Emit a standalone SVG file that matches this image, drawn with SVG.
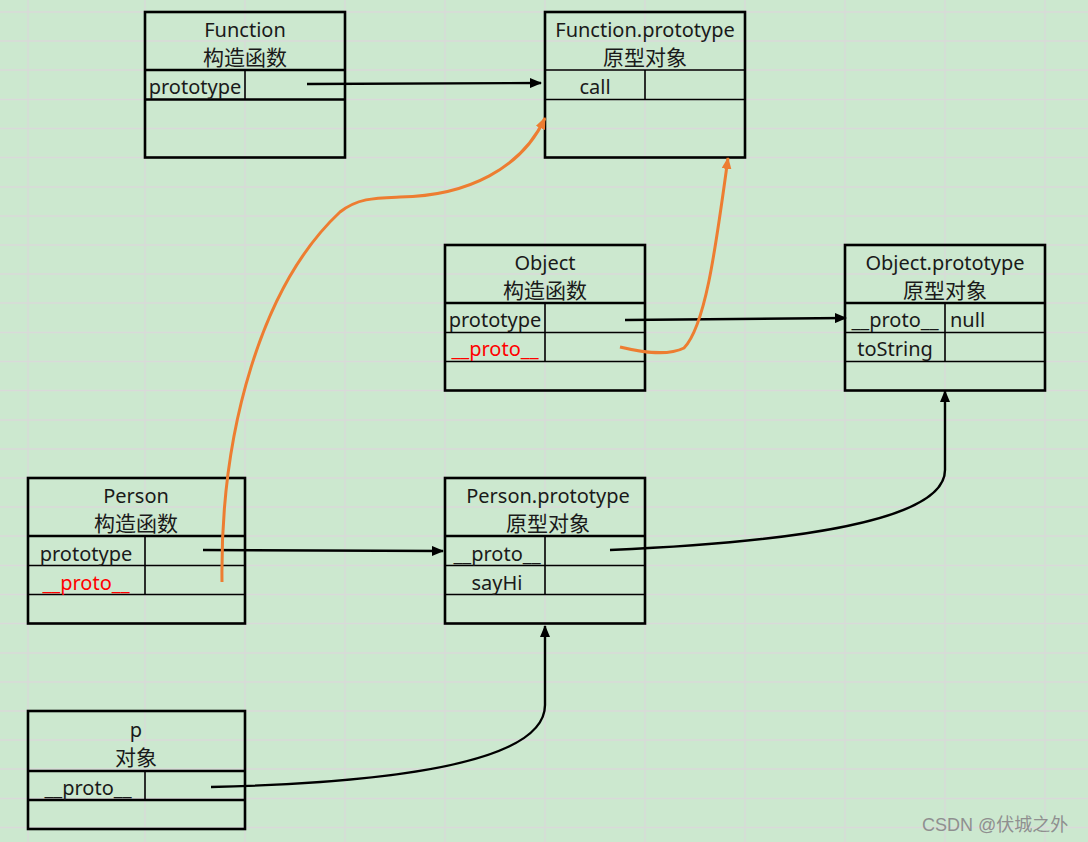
<svg xmlns="http://www.w3.org/2000/svg" width="1088" height="842" viewBox="0 0 1088 842">
<style>
.bg{fill:#cce8cf}
.grid{stroke:#d9d9d9;stroke-width:1.3;fill:none}
.box{fill:none;stroke:#000;stroke-width:2.6}
.ln{stroke:#000;stroke-width:1.6;fill:none}
.t{font-family:"Noto Sans","Noto Sans CJK SC",sans-serif;font-size:20px;fill:#1a1a1a}
.zh{font-family:"Noto Sans CJK SC",sans-serif;font-size:21px;fill:#1a1a1a}
.red{fill:#ff0000}
.c{text-anchor:middle}
.blk{stroke:#000;stroke-width:2.4;fill:none}
.org{stroke:#ed7d31;stroke-width:3;fill:none}
.wm{font-family:"Liberation Sans","Noto Sans CJK SC",sans-serif;font-size:18px;fill:#8f8f8f}
</style>
<defs>
<marker id="ab" markerUnits="userSpaceOnUse" markerWidth="12" markerHeight="10" refX="11" refY="5" orient="auto"><path d="M0,0 L12,5 L0,10 z" fill="#000"/></marker>
<marker id="ao" markerUnits="userSpaceOnUse" markerWidth="12" markerHeight="10" refX="11" refY="5" orient="auto"><path d="M0,0 L12,5 L0,10 z" fill="#ed7d31"/></marker>
</defs>
<rect class="bg" x="0" y="0" width="1088" height="842"/>
<g id="grid">
<path class="grid" d="M28,0V842M145,0V842M245,0V842M345,0V842M445,0V842M545,0V842M645,0V842M745,0V842M845,0V842M945,0V842M1045,0V842"/>
<path class="grid" d="M0,12H1088M0,41H1088M0,70H1088M0,99.5H1088M0,128.5H1088M0,157.5H1088M0,187H1088M0,216H1088M0,245H1088M0,274H1088M0,303H1088M0,332.5H1088M0,361.5H1088M0,390.5H1088M0,420H1088M0,449H1088M0,478H1088M0,507H1088M0,536H1088M0,565.5H1088M0,594.5H1088M0,623.5H1088M0,653H1088M0,682H1088M0,711H1088M0,740H1088M0,769H1088M0,798.5H1088M0,827.5H1088"/>
</g>
<g id="function">
<rect class="box" x="145" y="12" width="200" height="145.5"/>
<path class="box" d="M145,70H345M145,99.5H345"/>
<path class="ln" d="M245,70V99.5"/>
<text class="t c" x="245" y="37">Function</text>
<text class="zh c" x="245" y="65">构造函数</text>
<text class="t c" x="195" y="94">prototype</text>
</g>
<g id="function-prototype">
<rect class="box" x="545" y="12" width="200" height="145.5"/>
<path class="ln" d="M545,70H745M545,99.5H745M645,70V99.5"/>
<text class="t c" x="645" y="37">Function.prototype</text>
<text class="zh c" x="645" y="65">原型对象</text>
<text class="t c" x="595" y="94">call</text>
</g>
<g id="object">
<rect class="box" x="445" y="245" width="200" height="145.5"/>
<path class="box" d="M445,303H645"/>
<path class="ln" d="M445,332.5H645M445,361.5H645M545,303V361.5"/>
<text class="t c" x="545" y="270">Object</text>
<text class="zh c" x="545" y="298">构造函数</text>
<text class="t c" x="495" y="327">prototype</text>
<text class="t c red" x="495" y="356">__proto__</text>
</g>
<g id="object-prototype">
<rect class="box" x="845" y="245" width="200" height="145.5"/>
<path class="box" d="M845,303H1045"/>
<path class="ln" d="M845,332.5H1045M845,361.5H1045M945,303V361.5"/>
<text class="t c" x="945" y="270">Object.prototype</text>
<text class="zh c" x="945" y="298">原型对象</text>
<text class="t c" x="895" y="327">__proto__</text>
<text class="t" x="950" y="327">null</text>
<text class="t c" x="895" y="356">toString</text>
</g>
<g id="person">
<rect class="box" x="28" y="478" width="217" height="145.5"/>
<path class="box" d="M28,536H245"/>
<path class="ln" d="M28,565.5H245M28,594.5H245M145,536V594.5"/>
<text class="t c" x="136" y="503">Person</text>
<text class="zh c" x="136" y="531">构造函数</text>
<text class="t c" x="86" y="561">prototype</text>
<text class="t c red" x="86" y="590">__proto__</text>
</g>
<g id="person-prototype">
<rect class="box" x="445" y="478" width="200" height="145.5"/>
<path class="box" d="M445,536H645"/>
<path class="ln" d="M445,565.5H645M445,594.5H645M545,536V594.5"/>
<text class="t c" x="548" y="503">Person.prototype</text>
<text class="zh c" x="548" y="531">原型对象</text>
<text class="t c" x="497" y="561">__proto__</text>
<text class="t c" x="497" y="590">sayHi</text>
</g>
<g id="p">
<rect class="box" x="28" y="711" width="217" height="118"/>
<path class="box" d="M28,771H245M28,800H245"/>
<path class="ln" d="M145,771V800"/>
<text class="t c" x="136" y="737">p</text>
<text class="zh c" x="136" y="765">对象</text>
<text class="t c" x="88" y="795">__proto__</text>
</g>
<g id="connectors">
<path class="blk" d="M307,84 L541,83" marker-end="url(#ab)"/>
<path class="blk" d="M625,320 L846,318" marker-end="url(#ab)"/>
<path class="blk" d="M203,550 L443,551" marker-end="url(#ab)"/>
<path class="blk" d="M610,550 C770,543 945,525 945,470 L945,391" marker-end="url(#ab)"/>
<path class="blk" d="M211,787 C380,783 545,765 545,705 L545,626" marker-end="url(#ab)"/>
<path class="org" d="M222,582 C220,430 262,285 340,212 C358,198 375,198 400,197 C468,196 522,168 545,118" marker-end="url(#ao)"/>
<path class="org" d="M620,347 C645,353 668,356 684,348 C706,325 716,245 728,158" marker-end="url(#ao)"/>
</g>
<text class="wm" x="922" y="831">CSDN @伏城之外</text>
</svg>
